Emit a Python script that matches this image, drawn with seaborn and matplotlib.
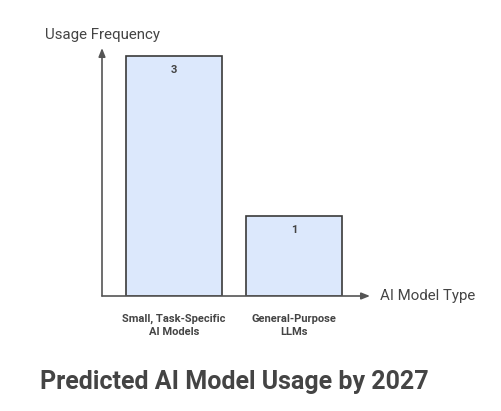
import matplotlib
matplotlib.use("Agg")
import matplotlib.pyplot as plt
import seaborn as sns
import pandas as pd

# chart data
categories = ["Small, Task-Specific\nAI Models", "General-Purpose\nLLMs"]
usage = [3, 1]

sns.set_style("white")
plt.rcParams['font.family'] = ['Roboto', 'DejaVu Sans']

df = pd.DataFrame({"model": categories, "usage": usage})

fig = plt.figure(figsize=(5.02, 4.11), dpi=100)
ax = fig.add_axes([102 / 502, 115 / 411, 268 / 502, 248 / 411])

sns.barplot(data=df, x="model", y="usage", ax=ax, color="#dce8fc",
            edgecolor="#3a3a3a", linewidth=1.2, width=0.8, saturation=1)

ax.set_xlim(-0.6, 1.633)
ax.set_ylim(0, 3.1)
for s in ax.spines.values():
    s.set_visible(False)
ax.set_yticks([])
ax.set_xlabel("")
ax.set_ylabel("")
ax.tick_params(axis="x", length=0, pad=13)
for lbl in ax.get_xticklabels():
    lbl.set_fontsize(8)
    lbl.set_fontweight("bold")
    lbl.set_color("#444444")
    lbl.set_linespacing(1.35)

# value labels inside bars
for i, v in enumerate(usage):
    ax.annotate(str(v), xy=(i, v), xytext=(0, -10), textcoords="offset points",
                ha="center", va="center", fontsize=8, fontweight="bold", color="#444444")

# axis arrows
arrow = dict(arrowstyle="-|>,head_length=0.5,head_width=0.2", color="#555555", lw=1.2,
             shrinkA=0, shrinkB=0)
ax.annotate("", xy=(0, 1), xytext=(0, 0), xycoords="axes fraction", arrowprops=arrow)
ax.annotate("", xy=(1, 0), xytext=(0, 0), xycoords="axes fraction", arrowprops=arrow)

fig.text(45 / 502, 1 - 35 / 411, "Usage Frequency", fontsize=10.8, color="#444444", va="center")
fig.text(380 / 502, 1 - 296 / 411, "AI Model Type", fontsize=10.8, color="#444444", va="center")
fig.text(40 / 502, 1 - 382 / 411, "Predicted AI Model Usage by 2027", fontsize=18,
         fontweight="bold", color="#444444", va="center")

fig.savefig("out.png", dpi=100, facecolor="white")
